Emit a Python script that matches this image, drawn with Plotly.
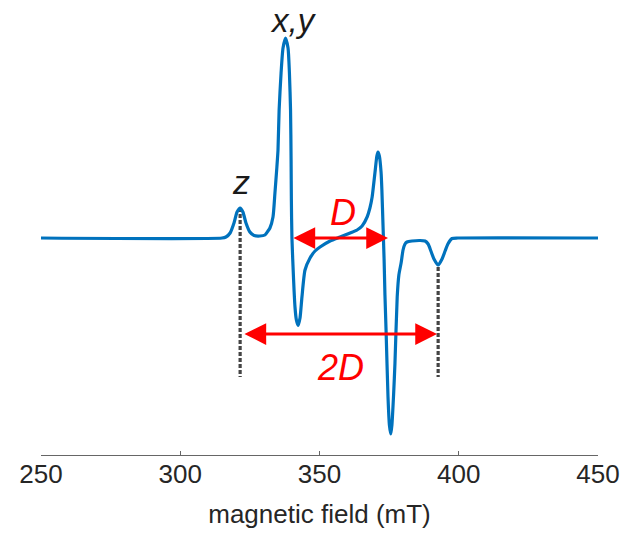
import plotly.graph_objects as go

# Spectrum (field in mT, intensity normalised to x,y peak)
field = [250.0, 315.0, 316.4, 317.9, 319.3, 320.4, 321.5, 322.5, 323.6, 325.0, 326.5,
         328.6, 330.4, 331.5, 332.2, 333.3, 334.0, 334.7, 335.1, 335.5, 336.2, 336.9,
         337.8, 338.7, 339.2, 339.6, 339.8, 339.9, 340.1, 340.7, 341.2, 341.7, 342.3,
         343.0, 343.7, 344.8, 346.6, 348.4, 350.2, 353.8, 357.4, 361.0, 363.5, 365.3,
         367.1, 368.1, 368.9, 369.9, 370.6, 371.0, 371.5, 372.1, 372.4, 372.8, 373.2,
         373.5, 373.9, 374.6, 375.1, 375.6, 376.0, 376.6, 377.1, 377.9, 378.5, 379.3,
         380.0, 380.7, 381.4, 383.2, 386.1, 387.9, 389.0, 390.0, 391.1, 392.6, 394.0,
         395.1, 396.1, 397.6, 399.7, 450.0]
signal = [0.0, 0.0, 0.005, 0.025, 0.075, 0.13, 0.15, 0.13, 0.075, 0.03, 0.0125,
          0.01, 0.015, 0.035, 0.05, 0.105, 0.225, 0.355, 0.44, 0.64, 0.825, 0.95,
          1.0, 0.95, 0.825, 0.64, 0.39, 0.19, 0.0, -0.21, -0.345, -0.41, -0.4375,
          -0.40, -0.295, -0.16, -0.10, -0.065, -0.045, -0.015, 0.005, 0.025, 0.04, 0.06,
          0.105, 0.15, 0.205, 0.325, 0.41, 0.43, 0.41, 0.33, 0.24, 0.065, -0.11,
          -0.285, -0.46, -0.795, -0.935, -0.98, -0.935, -0.785, -0.625, -0.295, -0.185, -0.125,
          -0.06, -0.03, -0.02, -0.015, -0.0125, -0.015, -0.03, -0.065, -0.105, -0.135, -0.105,
          -0.065, -0.03, -0.0025, 0.0, 0.0]

tick_vals = [250, 300, 350, 400, 450]
x_title = "magnetic field (mT)"

# Marker positions
z_fields = [321.5, 392.6]          # dashed guide lines
z_tops = [0.15, -0.145]
guide_bottom = -0.695
D_arrow = [340.1, 374.6, 0.0]      # x0, x1, y
D2_arrow = [322.5, 392.2, -0.48]

BLUE = "#0072BD"
RED = "#FF0000"
GREY = "#444444"

fig = go.Figure()
fig.add_trace(go.Scatter(x=field, y=signal, mode="lines",
                         line=dict(color=BLUE, width=3.2, shape="spline", smoothing=0.6),
                         hoverinfo="skip", showlegend=False))

for xf, yt in zip(z_fields, z_tops):
    fig.add_shape(type="line", x0=xf, x1=xf, y0=yt, y1=guide_bottom, xref="x", yref="y",
                  line=dict(color=GREY, width=3.2, dash="4px,2px"), layer="below")

for x0, x1, y in (D_arrow, D2_arrow):
    fig.add_annotation(x=x1, y=y, ax=x0, ay=y, xref="x", yref="y", axref="x", ayref="y",
                       text="", showarrow=True, arrowhead=2, arrowside="end+start",
                       arrowsize=1.45, arrowwidth=3, arrowcolor=RED, standoff=0, startstandoff=0)

fig.add_annotation(x=358.4, y=0.13, text="<i>D</i>", showarrow=False,
                   font=dict(family="Liberation Sans", size=36, color=RED))
fig.add_annotation(x=357.4, y=-0.645, text="<i>2D</i>", showarrow=False,
                   font=dict(family="Liberation Sans", size=36, color=RED))
fig.add_annotation(x=321.8, y=0.28, text="<i>z</i>", showarrow=False,
                   font=dict(family="Liberation Sans", size=34, color="#1a1a1a"))
fig.add_annotation(x=340.5, y=1.09, text="<i>x,y</i>", showarrow=False,
                   font=dict(family="Liberation Sans", size=33, color="#1a1a1a"))

fig.update_layout(
    width=640, height=534,
    margin=dict(l=41, r=42, t=10, b=79),
    paper_bgcolor="white", plot_bgcolor="white",
    font=dict(family="Liberation Sans", color="#262626"),
    xaxis=dict(range=[250, 450], tickvals=tick_vals, ticks="inside", ticklen=4,
               tickcolor="#666666", showline=True, linecolor="#666666", linewidth=1.2,
               showgrid=False, zeroline=False, tickfont=dict(size=26, color="#262626"),
               ticklabelstandoff=-4,
               title=dict(text=x_title, font=dict(size=26, color="#262626"), standoff=16)),
    yaxis=dict(range=[-1.085, 1.14], visible=False, showgrid=False, zeroline=False),
)

fig.write_html("out.html")
